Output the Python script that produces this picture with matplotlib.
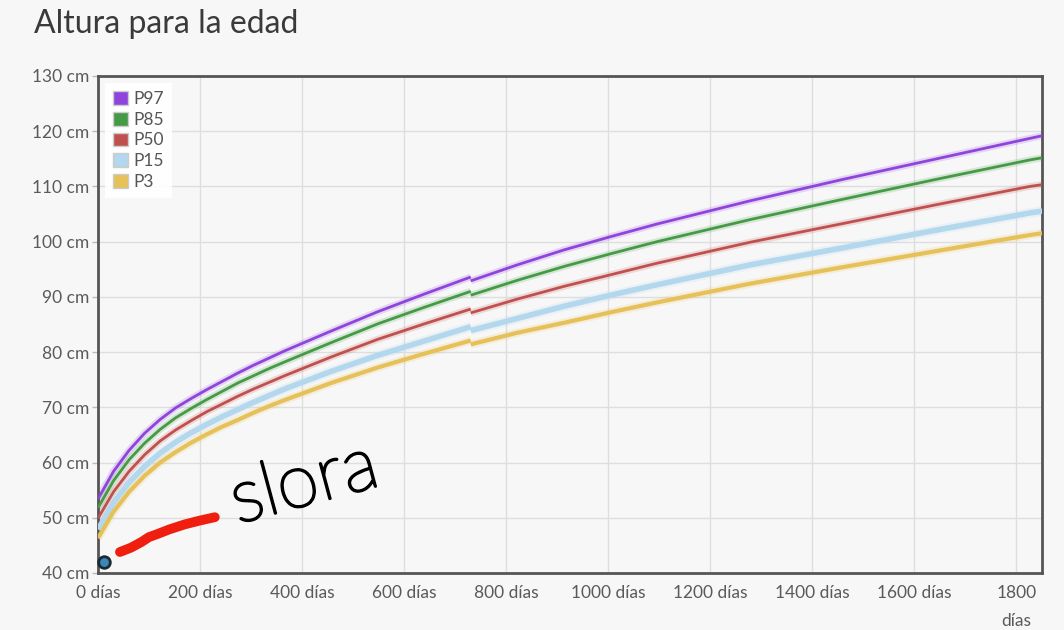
import matplotlib
matplotlib.use("Agg")
import matplotlib.pyplot as plt
import matplotlib.patheffects as pe
from matplotlib.patches import Patch

# age in months, height percentiles (cm)
months_len = [0, 1, 2, 3, 4, 5, 6, 7, 8, 9, 10, 11, 12, 15, 18, 21, 24]
p3_len = [46.3, 51.1, 54.7, 57.6, 60.0, 61.9, 63.6, 65.1, 66.5, 67.7, 69.0, 70.2, 71.3, 74.4, 77.2, 79.7, 82.1]
p15_len = [47.9, 52.7, 56.4, 59.3, 61.7, 63.7, 65.4, 66.9, 68.3, 69.6, 70.9, 72.1, 73.3, 76.5, 79.4, 82.0, 84.6]
p50_len = [49.9, 54.7, 58.4, 61.4, 63.9, 65.9, 67.6, 69.2, 70.6, 72.0, 73.3, 74.5, 75.7, 79.1, 82.3, 85.1, 87.8]
p85_len = [51.8, 56.7, 60.5, 63.5, 66.0, 68.1, 69.8, 71.4, 72.9, 74.4, 75.7, 77.0, 78.2, 81.7, 85.1, 88.1, 91.0]
p97_len = [53.4, 58.4, 62.2, 65.3, 67.8, 69.9, 71.6, 73.2, 74.7, 76.2, 77.6, 78.9, 80.2, 83.8, 87.3, 90.5, 93.6]

months_hgt = [24, 27, 30, 33, 36, 42, 48, 54, 60, 61]
p3_hgt = [81.4, 83.5, 85.3, 87.2, 89.0, 92.4, 95.4, 98.3, 101.2, 101.6]
p15_hgt = [83.9, 86.1, 88.3, 90.3, 92.2, 95.8, 98.9, 102.1, 105.2, 105.6]
p50_hgt = [87.1, 89.6, 91.9, 94.0, 96.1, 99.9, 103.3, 106.7, 110.0, 110.4]
p85_hgt = [90.3, 93.0, 95.5, 97.8, 100.0, 104.0, 107.7, 111.3, 114.8, 115.3]
p97_hgt = [92.9, 95.8, 98.5, 100.9, 103.2, 107.4, 111.3, 115.0, 118.7, 119.3]

# child measurements
child_days = [43, 65, 85, 100, 115, 140, 170, 200, 229]
child_cm = [43.8, 44.6, 45.6, 46.5, 47.0, 47.9, 48.8, 49.5, 50.1]
dot_day = [12]
dot_cm = [42.0]

labels = ["P97", "P85", "P50", "P15", "P3"]
colors = ["#8e44dd", "#459a45", "#c0504d", "#b3d7ec", "#e6c058"]
widths = [2.0, 2.0, 2.0, 4.0, 3.0]

days_per_month = 30.4375
d_len = [m * days_per_month for m in months_len]
d_hgt = [m * days_per_month for m in months_hgt]

bg = "#f7f7f7"
plt.rcParams["font.family"] = ["Lato", "DejaVu Sans"]

fig = plt.figure(figsize=(10.64, 6.30), dpi=100, facecolor=bg)
ax = fig.add_axes([0.0921, 0.0905, 0.9793 - 0.0921, 0.8794 - 0.0905])
ax.set_facecolor(bg)

series_len = [p97_len, p85_len, p50_len, p15_len, p3_len]
series_hgt = [p97_hgt, p85_hgt, p50_hgt, p15_hgt, p3_hgt]
for ylen, yhgt, c, w in zip(series_len, series_hgt, colors, widths):
    for xs, ys in [(d_len, ylen), (d_hgt, yhgt)]:
        ax.plot(xs, ys, color=c, lw=w + 3, alpha=0.18, solid_capstyle="butt", zorder=2)
        ax.plot(xs, ys, color=c, lw=w, solid_capstyle="butt", zorder=3)

ax.plot(child_days, child_cm, color="#f01e0e", lw=7, solid_capstyle="round", zorder=4)
ax.scatter(dot_day, dot_cm, s=70, color="#3a88b8", edgecolor="#1a2a33", linewidth=2, zorder=5, clip_on=False)
ax.text(405, 56.0, "slora", fontsize=54, rotation=15, ha="center", va="center",
        fontweight="light", color="black", zorder=6,
        path_effects=[pe.withStroke(linewidth=1.8, foreground="black")])

ax.set_xlim(0, 1850)
ax.set_ylim(40, 130)
xt = list(range(0, 1801, 200))
ax.set_xticks(xt)
ax.set_xticklabels([f"{v} días" if v < 1800 else f"{v}\ndías" for v in xt], va="top",
                   linespacing=1.9)
yt = list(range(40, 131, 10))
ax.set_yticks(yt)
ax.set_yticklabels([f"{v} cm" for v in yt])
ax.tick_params(colors="#5a5a5a", labelsize=12.5, length=4, width=1, pad=2)
ax.tick_params(axis="x", length=0, pad=9)
ax.tick_params(axis="y", length=4, color="#bbbbbb")
ax.grid(True, color="#dedede", lw=1)
ax.set_axisbelow(True)
for s in ax.spines.values():
    s.set_color("#555555")
    s.set_linewidth(2)

handles = [Patch(facecolor=c, edgecolor="#cccccc", linewidth=1) for c in colors]
leg = ax.legend(handles, labels, loc="upper left", bbox_to_anchor=(0.0, 1.0), frameon=True,
                fontsize=12.5, handlelength=0.85, handleheight=0.85, handletextpad=0.35,
                labelspacing=0.28, borderpad=0.45, borderaxespad=0.4, labelcolor="#555555")
leg.get_frame().set_facecolor("white")
leg.get_frame().set_edgecolor("none")
leg.get_frame().set_alpha(0.9)
leg.get_frame().set_boxstyle("square", pad=0)

fig.text(0.032, 0.962, "Altura para la edad", fontsize=23, color="#3a3a3a",
         ha="left", va="center")

fig.savefig("out.png", dpi=100, facecolor=bg)
